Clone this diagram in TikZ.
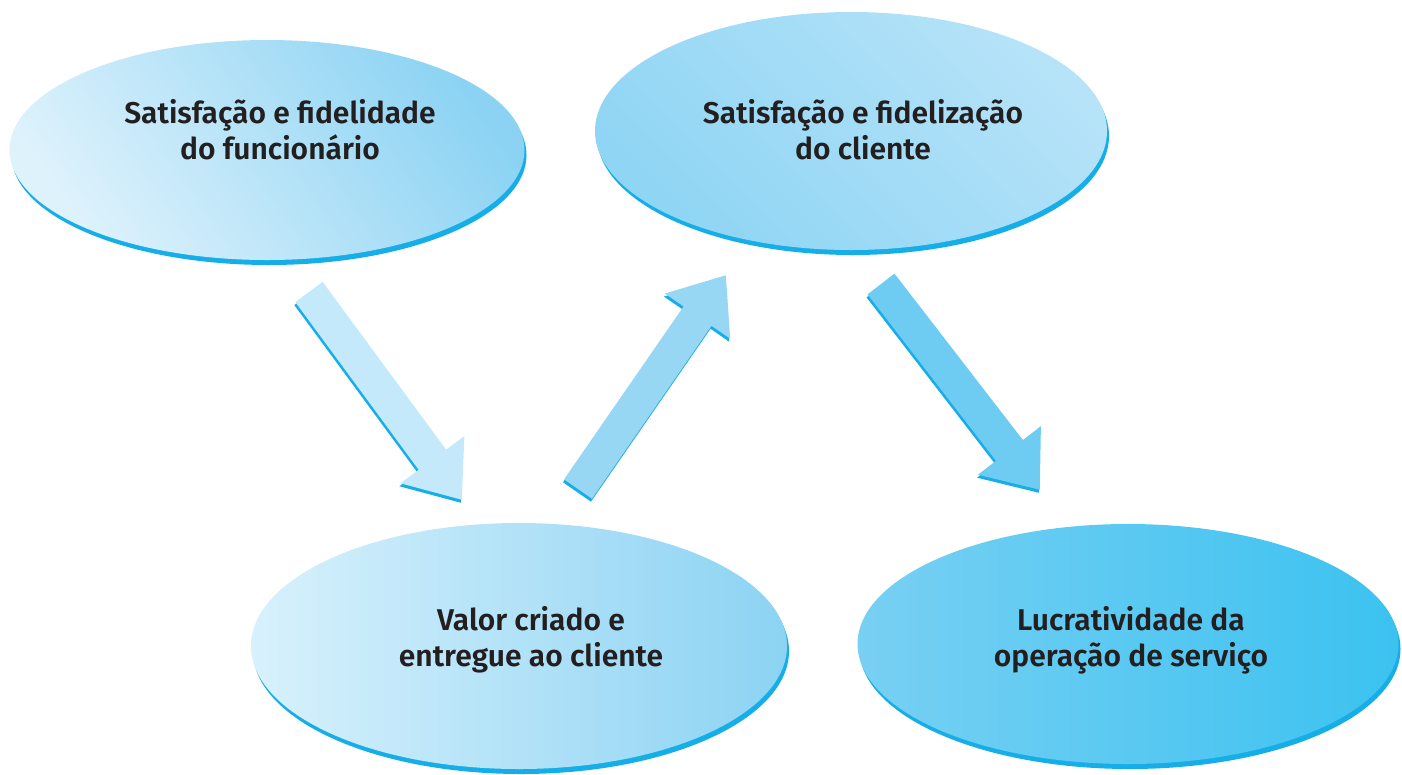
\documentclass[tikz,border=0pt]{standalone}
\usepackage{fontspec}
\setmainfont{Fira Sans}[BoldFont={Fira Sans SemiBold}]
\usetikzlibrary{shapes.geometric, shadows, arrows.meta}

\definecolor{rimblue}{RGB}{22,174,232}
\definecolor{inkgray}{RGB}{35,31,32}
\definecolor{empdark}{RGB}{140,211,243}
\definecolor{emplight}{RGB}{222,242,252}
\definecolor{clidark}{RGB}{143,213,244}
\definecolor{clilight}{RGB}{182,227,248}
\definecolor{valdark}{RGB}{140,211,243}
\definecolor{vallight}{RGB}{216,241,252}
\definecolor{lucdark}{RGB}{60,194,240}
\definecolor{luclight}{RGB}{120,208,243}

\tikzset{
	bubble/.style={ellipse, inner sep=0pt, outer sep=0pt,
		drop shadow={fill=rimblue, opacity=1, shadow xshift=2pt, shadow yshift=-5pt}},
	caption/.style={align=center, text=inkgray,
		font=\fontsize{30}{36}\selectfont\bfseries},
	flow/.style={line width=34pt, -{Triangle[length=50pt, width=76pt]}},
	flowrim/.style={flow, rimblue, transform canvas={xshift=-1pt, yshift=-3pt}}
}

\begin{document}
\begin{tikzpicture}[x=1pt, y=-1pt]
	\useasboundingbox (0,0) rectangle (1402,774);
	
	\node[bubble, minimum width=515pt, minimum height=220pt,
		top color=emplight, bottom color=empdark, shading angle=125] (emp) at (267,150) {};
	\node[bubble, minimum width=512pt, minimum height=238pt,
		top color=clilight, bottom color=clidark, shading angle=-45] (cli) at (851,131) {};
	\node[bubble, minimum width=536pt, minimum height=246pt,
		left color=vallight, right color=valdark] (val) at (519,646) {};
	\node[bubble, minimum width=541pt, minimum height=240pt,
		left color=luclight, right color=lucdark] (luc) at (1128,644) {};
	
	\node[caption] (emptext) at (280,130) {Satisfação e fidelidade\\do funcionário};
	\node[caption] (clitext) at (863,130) {Satisfação e fidelização\\do cliente};
	\node[caption] (valtext) at (531,640) {Valor criado e\\entregue ao cliente};
	\node[caption] (luctext) at (1131,640) {Lucratividade da\\operação de serviço};
	
	\coordinate (a1s) at (309,292);
	\coordinate (a1e) at (462,500);
	\coordinate (a2s) at (578,489);
	\coordinate (a2e) at (726,275);
	\coordinate (a3s) at (881,284);
	\coordinate (a3e) at (1040,490);
	
	\draw[flowrim] (a1s) -- (a1e);
	\draw[flowrim] (a2s) -- (a2e);
	\draw[flowrim] (a3s) -- (a3e);
	\draw[flow, color={rgb,255:red,196;green,233;blue,250}] (a1s) -- (a1e);
	\draw[flow, color={rgb,255:red,152;green,215;blue,244}] (a2s) -- (a2e);
	\draw[flow, color={rgb,255:red,110;green,204;blue,242}] (a3s) -- (a3e);
\end{tikzpicture}
\end{document}
